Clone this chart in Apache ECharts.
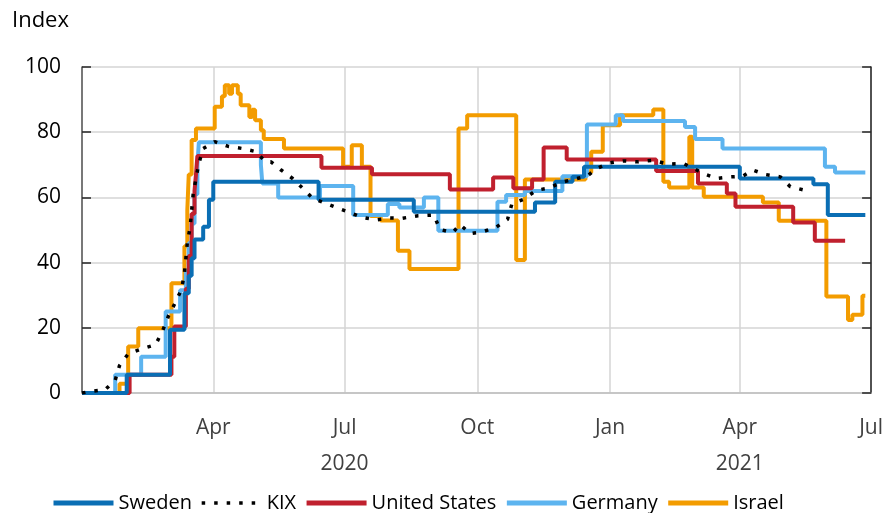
<!DOCTYPE html>
<html>
<head>
<meta charset="utf-8">
<script src="https://cdn.jsdelivr.net/npm/echarts@6/dist/echarts.min.js"></script>
<style>
  html, body { margin: 0; padding: 0; background: #fff; }
  #chart { width: 886px; height: 513px; }
</style>
</head>
<body>
<div id="chart"></div>
<script>
// stringency index (date the level starts, value)
var sweden = [
    ['2020-01-01', 0], ['2020-02-01', 5.56], ['2020-03-02', 19.44], ['2020-03-12', 30.56],
    ['2020-03-15', 36], ['2020-03-17', 41.3], ['2020-03-19', 47.1], ['2020-03-25', 51],
    ['2020-03-29', 59.3], ['2020-04-01', 64.8], ['2020-06-13', 59.3], ['2020-08-18', 55.6],
    ['2020-11-10', 58.4], ['2020-11-24', 64.8], ['2020-12-06', 66.3], ['2020-12-14', 69.4],
    ['2021-04-01', 65.8], ['2021-05-22', 64], ['2021-06-01', 54.6], ['2021-06-27', 54.6]
];
var kix = [
    ['2020-01-01', 0], ['2020-01-07', 0.5], ['2020-01-17', 1], ['2020-01-24', 3.9],
    ['2020-01-27', 8.4], ['2020-02-02', 12], ['2020-02-11', 13.5], ['2020-02-21', 14.8],
    ['2020-02-26', 19.2], ['2020-03-01', 23.7], ['2020-03-06', 28], ['2020-03-10', 31.8],
    ['2020-03-12', 36.7], ['2020-03-13', 41.3], ['2020-03-14', 46.1], ['2020-03-16', 51],
    ['2020-03-17', 55.9], ['2020-03-18', 60.7], ['2020-03-20', 65.8], ['2020-03-22', 70.4],
    ['2020-03-25', 75], ['2020-04-02', 77.1], ['2020-04-11', 75.7], ['2020-04-21', 75],
    ['2020-05-01', 74], ['2020-05-07', 70.9], ['2020-05-11', 70.9], ['2020-05-18', 68.4],
    ['2020-05-26', 65.8], ['2020-06-02', 62.8], ['2020-06-09', 59.7], ['2020-06-19', 58],
    ['2020-06-27', 56.6], ['2020-07-05', 55.3], ['2020-07-13', 53.9], ['2020-07-23', 53.1],
    ['2020-08-01', 53.7], ['2020-08-10', 53.6], ['2020-08-21', 54.4], ['2020-09-01', 54.6],
    ['2020-09-05', 50.2], ['2020-09-14', 49.2], ['2020-09-19', 51.7], ['2020-09-26', 48.9],
    ['2020-10-05', 49.5], ['2020-10-14', 50.8], ['2020-10-22', 53.3], ['2020-10-25', 58],
    ['2020-11-02', 59.4], ['2020-11-11', 62.2], ['2020-11-20', 62.9], ['2020-11-28', 64.6],
    ['2020-12-16', 66.5], ['2020-12-23', 68.9], ['2021-01-01', 70.6], ['2021-01-10', 71.2],
    ['2021-01-20', 70.9], ['2021-01-31', 71.4], ['2021-02-10', 70.2], ['2021-02-21', 70.4],
    ['2021-03-08', 67.1], ['2021-03-16', 65.8], ['2021-03-26', 66.3], ['2021-04-03', 66.5],
    ['2021-04-10', 68.4], ['2021-04-19', 67], ['2021-04-29', 66.3], ['2021-05-06', 63.3],
    ['2021-05-16', 62.2]
];
var unitedStates = [
    ['2020-01-01', 0], ['2020-02-03', 5.56], ['2020-03-03', 11.1], ['2020-03-05', 20.4],
    ['2020-03-13', 32], ['2020-03-15', 42], ['2020-03-17', 55], ['2020-03-19', 62],
    ['2020-03-20', 67], ['2020-03-21', 72.7], ['2020-06-15', 69.1], ['2020-07-20', 67.1],
    ['2020-09-12', 62.4], ['2020-10-12', 66.1], ['2020-10-26', 62.8], ['2020-11-08', 65.5],
    ['2020-11-16', 75.3], ['2020-12-02', 71.6], ['2021-02-02', 68.1], ['2021-03-03', 64.3],
    ['2021-03-23', 61.2], ['2021-03-29', 57.1], ['2021-05-08', 52.3], ['2021-05-23', 46.7],
    ['2021-06-13', 46.7]
];
var germany = [
    ['2020-01-01', 0], ['2020-01-24', 5.56], ['2020-02-11', 11.1], ['2020-02-28', 25],
    ['2020-03-09', 31.5], ['2020-03-13', 37], ['2020-03-15', 46], ['2020-03-17', 52],
    ['2020-03-19', 61], ['2020-03-21', 70], ['2020-03-22', 76.9], ['2020-05-04', 70],
    ['2020-05-05', 64.3], ['2020-05-16', 60], ['2020-06-14', 63.5], ['2020-07-07', 54.6],
    ['2020-07-31', 58], ['2020-08-08', 56.9], ['2020-08-25', 60], ['2020-09-04', 49.8],
    ['2020-10-15', 58.7], ['2020-10-21', 60.7], ['2020-11-03', 62], ['2020-11-29', 66.5],
    ['2020-12-16', 82.4], ['2021-01-05', 85.2], ['2021-01-10', 83.4], ['2021-02-22', 81.6],
    ['2021-03-01', 77.9], ['2021-03-20', 75], ['2021-05-30', 69.4], ['2021-06-06', 67.6],
    ['2021-06-27', 67.6]
];
var israel = [
    ['2020-01-01', 0], ['2020-01-27', 2.8], ['2020-02-02', 14.3], ['2020-02-09', 19.9],
    ['2020-03-03', 33.7], ['2020-03-12', 45], ['2020-03-14', 56], ['2020-03-15', 67],
    ['2020-03-17', 77.6], ['2020-03-20', 81.1], ['2020-04-02', 87.8], ['2020-04-07', 91],
    ['2020-04-09', 94.4], ['2020-04-12', 91.8], ['2020-04-14', 94.4], ['2020-04-18', 91.8],
    ['2020-04-20', 88.3], ['2020-04-26', 84.7], ['2020-04-28', 86.9], ['2020-04-30', 83.7],
    ['2020-05-04', 80.6], ['2020-05-06', 77.9], ['2020-05-20', 75], ['2020-06-30', 69.4],
    ['2020-07-06', 76], ['2020-07-13', 69.4], ['2020-07-19', 54.3], ['2020-07-26', 52.9],
    ['2020-08-07', 43.6], ['2020-08-15', 38], ['2020-09-18', 81.1], ['2020-09-24', 85.2],
    ['2020-10-28', 40.8], ['2020-11-03', 65.5], ['2020-12-15', 67.6], ['2020-12-19', 74],
    ['2020-12-27', 82.1], ['2021-01-08', 85.2], ['2021-01-31', 87], ['2021-02-07', 64.8],
    ['2021-02-11', 63], ['2021-02-25', 78.6], ['2021-02-27', 63], ['2021-03-07', 60.2],
    ['2021-04-17', 58.4], ['2021-04-28', 52.8], ['2021-05-31', 29.6], ['2021-06-15', 22.4],
    ['2021-06-18', 24], ['2021-06-25', 29.8], ['2021-06-27', 29.8]
];

var monthNames = ['Jan', 'Feb', 'Mar', 'Apr', 'May', 'Jun', 'Jul', 'Aug', 'Sep', 'Oct', 'Nov', 'Dec'];
// the year is written under these months
var yearUnder = { '2020-6': '2020', '2021-3': '2021' };

var font = '"Open Sans", "Noto Sans", sans-serif';

var chart = echarts.init(document.getElementById('chart'), null, { renderer: 'canvas' });

function stepLine(name, data, color, z) {
    return {
        name: name,
        type: 'line',
        step: 'end',
        data: data,
        symbol: 'none',
        z: z,
        lineStyle: { color: color, width: 4 },
        itemStyle: { color: color }
    };
}

var option = {
    animation: false,
    backgroundColor: '#fff',
    textStyle: { fontFamily: font },
    title: {
        text: 'Index',
        left: 7,
        top: 5,
        textStyle: { fontFamily: font, fontSize: 22, fontWeight: 'normal', color: '#000' }
    },
    grid: { left: 82, right: 14, top: 67, bottom: 120 },
    legend: {
        data: [
            { name: 'Sweden' },
            { name: 'KIX', lineStyle: { width: 3.5 } },
            { name: 'United States' },
            { name: 'Germany' },
            { name: 'Israel' }
        ],
        left: 46,
        top: 488,
        itemWidth: 60,
        itemHeight: 12,
        itemGap: 8,
        lineStyle: { width: 5 },
        itemStyle: { opacity: 0 },
        textStyle: { fontFamily: font, fontSize: 20, color: '#000' }
    },
    xAxis: {
        type: 'time',
        min: '2020-01-01',
        max: '2021-07-01',
        splitNumber: 6,
        axisLine: { lineStyle: { color: '#bfbfbf', width: 1.5 } },
        axisTick: { show: false },
        splitLine: { show: true, lineStyle: { color: '#d4d4d4', width: 1.5 } },
        axisLabel: {
            margin: 24,
            hideOverlap: false,
            formatter: function (value) {
                var d = new Date(value);
                var y = d.getFullYear(), m = d.getMonth();
                if (y === 2020 && m === 0) return '';
                var s = '{m|' + monthNames[m] + '}';
                var yr = yearUnder[y + '-' + m];
                if (yr) s += '\n{y|' + yr + '}';
                return s;
            },
            rich: {
                m: { fontFamily: font, fontSize: 21, color: '#404040', lineHeight: 22 },
                y: { fontFamily: font, fontSize: 21, color: '#404040', lineHeight: 28, padding: [22, 0, 0, 0] }
            }
        }
    },
    yAxis: [{
        type: 'value',
        min: 0,
        max: 100,
        interval: 20,
        axisLine: { show: true, lineStyle: { color: '#595959', width: 1.5 } },
        axisTick: { show: true, inside: true, length: 9, lineStyle: { color: '#262626', width: 1.5 } },
        splitLine: { show: true, lineStyle: { color: '#d4d4d4', width: 1.5 } },
        axisLabel: { margin: 21, fontFamily: font, fontSize: 21, color: '#000' }
    }, {
        type: 'value',
        position: 'right',
        min: 0,
        max: 100,
        interval: 20,
        axisLine: { show: true, lineStyle: { color: '#262626', width: 1.5 } },
        axisTick: { show: true, inside: true, length: 9, lineStyle: { color: '#262626', width: 1.5 } },
        splitLine: { show: false },
        axisLabel: { show: false }
    }],
    series: [
        stepLine('Israel', israel, '#f39c00', 2),
        stepLine('Germany', germany, '#5db4ef', 3),
        stepLine('United States', unitedStates, '#c0202e', 4),
        stepLine('Sweden', sweden, '#0a6eb4', 5),
        {
            name: 'KIX',
            type: 'line',
            data: kix,
            symbol: 'none',
            z: 6,
            lineStyle: { color: '#000', width: 3.5, type: [3.5, 9], cap: 'butt' },
            itemStyle: { color: '#000' }
        }
    ]
};

chart.setOption(option);
</script>
</body>
</html>
